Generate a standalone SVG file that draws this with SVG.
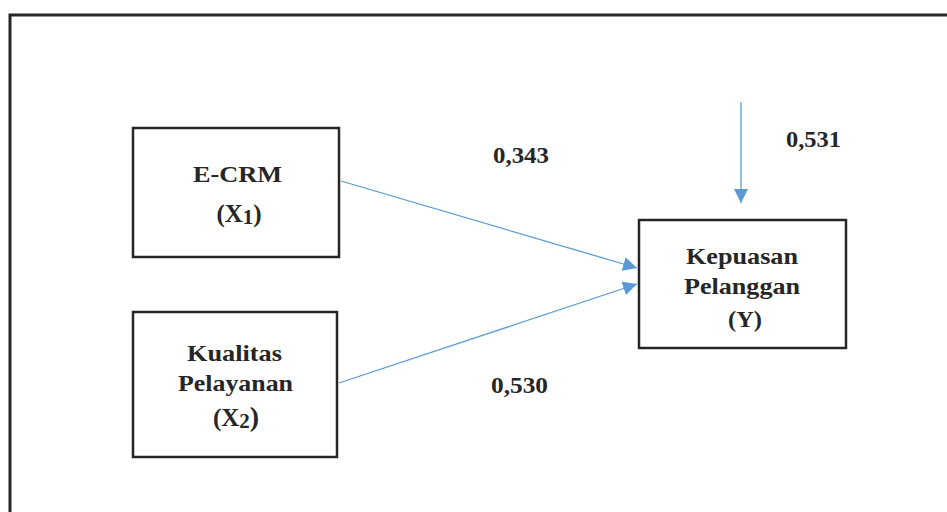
<svg xmlns="http://www.w3.org/2000/svg" width="947" height="512" viewBox="0 0 947 512">
<style>
.box{fill:#fff;stroke:#262626;stroke-width:2.5}
.t{font-family:"Liberation Serif","Times New Roman",serif;font-weight:bold;font-size:23px;fill:#262626;text-anchor:middle}
.c{stroke:#5b9bd5;stroke-width:1.3;fill:none}
</style>
<defs>
<marker id="ah" viewBox="0 0 10 10" refX="10" refY="5" markerWidth="14" markerHeight="14" markerUnits="userSpaceOnUse" orient="auto">
<path d="M0,0 L10,5 L0,10 z" fill="#5b9bd5"/>
</marker>
</defs>
<rect width="947" height="512" fill="#fff"/>
<path d="M10,512 V15 H947" fill="none" stroke="#262626" stroke-width="3"/>
<g id="connectors">
<line class="c" x1="341" y1="181" x2="637" y2="268" marker-end="url(#ah)"/>
<line class="c" x1="339" y1="383" x2="637" y2="284" marker-end="url(#ah)"/>
<line class="c" x1="741" y1="102" x2="741" y2="203" marker-end="url(#ah)"/>
<text class="t" x="521" y="163" textLength="56" lengthAdjust="spacingAndGlyphs">0,343</text>
<text class="t" x="519.5" y="393" textLength="57" lengthAdjust="spacingAndGlyphs">0,530</text>
<text class="t" x="813.5" y="147" textLength="55" lengthAdjust="spacingAndGlyphs">0,531</text>
</g>
<g id="ecrm">
<rect class="box" x="133" y="128" width="206" height="129"/>
<text class="t" x="237.5" y="182" textLength="89" lengthAdjust="spacingAndGlyphs">E-CRM</text>
<text class="t" x="239" y="222" style="font-size:25px">(X<tspan style="font-size:21px" dy="2">1</tspan><tspan dy="-2">)</tspan></text>
</g>
<g id="kualitas">
<rect class="box" x="133" y="312" width="204" height="145"/>
<text class="t" x="234.5" y="361" textLength="95" lengthAdjust="spacingAndGlyphs">Kualitas</text>
<text class="t" x="235.5" y="391" textLength="115" lengthAdjust="spacingAndGlyphs">Pelayanan</text>
<text class="t" x="236" y="426" style="font-size:25px">(X<tspan style="font-size:21px" dy="2">2</tspan><tspan dy="-2" style="font-size:28px">)</tspan></text>
</g>
<g id="kepuasan">
<rect class="box" x="639" y="220" width="207" height="128"/>
<text class="t" x="742" y="264" textLength="112" lengthAdjust="spacingAndGlyphs">Kepuasan</text>
<text class="t" x="742" y="294" textLength="116" lengthAdjust="spacingAndGlyphs">Pelanggan</text>
<text class="t" x="745" y="327" textLength="34" lengthAdjust="spacingAndGlyphs">(Y)</text>
</g>
</svg>
